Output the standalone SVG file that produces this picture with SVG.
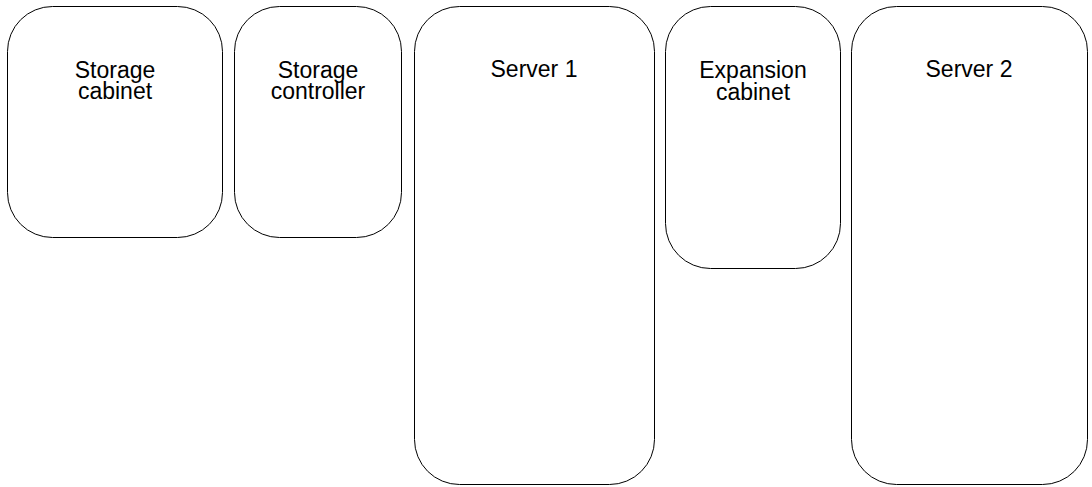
<svg xmlns="http://www.w3.org/2000/svg" width="1092" height="487" viewBox="0 0 1092 487">
  <style>
    .box { fill: #ffffff; stroke: #000000; stroke-width: 1; }
    .label { font-family: "Liberation Sans", Arial, sans-serif; font-size: 23px; fill: #000000; text-anchor: middle; }
  </style>
  <rect width="1092" height="487" fill="#ffffff"/>
  <g id="storage-cabinet">
    <rect class="box" x="7.5" y="6.5" width="215" height="231" rx="45" ry="45"/>
    <text class="label" x="115" y="78">Storage</text>
    <text class="label" x="115" y="99">cabinet</text>
  </g>
  <g id="storage-controller">
    <rect class="box" x="234.5" y="6.5" width="167" height="231" rx="45" ry="45"/>
    <text class="label" x="318" y="78">Storage</text>
    <text class="label" x="318" y="99">controller</text>
  </g>
  <g id="server-1">
    <rect class="box" x="414.5" y="6.5" width="240" height="478" rx="45" ry="45"/>
    <text class="label" x="534" y="77">Server 1</text>
  </g>
  <g id="expansion-cabinet">
    <rect class="box" x="665.5" y="6.5" width="175" height="262" rx="45" ry="45"/>
    <text class="label" x="753" y="78">Expansion</text>
    <text class="label" x="753" y="100">cabinet</text>
  </g>
  <g id="server-2">
    <rect class="box" x="851.5" y="6.5" width="236" height="478" rx="45" ry="45"/>
    <text class="label" x="969" y="77">Server 2</text>
  </g>
  <g id="connectors"/>
</svg>
